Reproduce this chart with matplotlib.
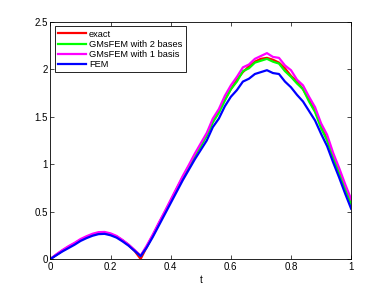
import numpy as np
import matplotlib.pyplot as plt

plt.rcParams['font.family'] = ['Liberation Sans', 'DejaVu Sans']

# time grid and solution values
t = np.linspace(0, 1, 51)

exact = [0.0, 0.045, 0.088, 0.128, 0.163, 0.202, 0.232, 0.257, 0.273, 0.276,
         0.262, 0.236, 0.195, 0.146, 0.085, 0.0,
         0.125, 0.245, 0.37, 0.49, 0.615, 0.74, 0.86, 0.975, 1.09, 1.2,
         1.31, 1.45, 1.56, 1.68, 1.79, 1.89, 1.97, 2.03, 2.08, 2.11,
         2.12, 2.10, 2.07, 2.01, 1.93, 1.87, 1.79, 1.68, 1.56, 1.41,
         1.26, 1.09, 0.92, 0.76, 0.60]

gms_2 = [0.0, 0.045, 0.088, 0.125, 0.16, 0.2, 0.23, 0.255, 0.272, 0.275,
         0.26, 0.235, 0.195, 0.148, 0.09, 0.03,
         0.13, 0.245, 0.365, 0.49, 0.61, 0.735, 0.855, 0.97, 1.09, 1.19,
         1.30, 1.44, 1.54, 1.67, 1.79, 1.87, 1.98, 2.01, 2.07, 2.09,
         2.11, 2.08, 2.06, 1.98, 1.92, 1.85, 1.79, 1.66, 1.55, 1.38,
         1.25, 1.07, 0.90, 0.74, 0.58]

gms_1 = [0.0, 0.05, 0.095, 0.135, 0.17, 0.21, 0.24, 0.266, 0.283, 0.285,
         0.27, 0.243, 0.2, 0.152, 0.095, 0.035,
         0.14, 0.255, 0.38, 0.50, 0.625, 0.75, 0.875, 0.99, 1.11, 1.22,
         1.33, 1.48, 1.58, 1.72, 1.83, 1.92, 2.02, 2.05, 2.11, 2.14,
         2.17, 2.13, 2.12, 2.04, 1.99, 1.89, 1.83, 1.71, 1.60, 1.43,
         1.31, 1.12, 0.96, 0.79, 0.63]

fem = [0.0, 0.04, 0.08, 0.115, 0.15, 0.19, 0.22, 0.245, 0.262, 0.265,
       0.25, 0.225, 0.185, 0.14, 0.085, 0.03,
       0.12, 0.23, 0.35, 0.47, 0.59, 0.71, 0.83, 0.94, 1.05, 1.15,
       1.25, 1.39, 1.48, 1.61, 1.71, 1.78, 1.87, 1.90, 1.95, 1.97,
       1.99, 1.96, 1.95, 1.87, 1.81, 1.73, 1.66, 1.56, 1.46, 1.32,
       1.19, 1.02, 0.86, 0.69, 0.53]

labels = ['exact', 'GMsFEM with 2 bases', 'GMsFEM with 1 basis', 'FEM']
colors = ['#ff0000', '#00ff00', '#ff00ff', '#0000ff']

fig = plt.figure(figsize=(3.88, 2.91), dpi=100)
ax = fig.add_axes([0.13, 0.11, 0.775, 0.815])

for y, lab, c in zip([exact, gms_2, gms_1, fem], labels, colors):
    ax.plot(t, y, color=c, lw=1.6, label=lab)

ax.set_xlim(0, 1)
ax.set_ylim(0, 2.5)
ax.set_xticks([0, 0.2, 0.4, 0.6, 0.8, 1])
ax.set_xticklabels(['0', '0.2', '0.4', '0.6', '0.8', '1'])
ax.set_yticks([0, 0.5, 1, 1.5, 2, 2.5])
ax.set_yticklabels(['0', '0.5', '1', '1.5', '2', '2.5'])
ax.tick_params(direction='in', top=True, right=True, length=3, width=0.5,
               labelsize=7, pad=2)
for s in ax.spines.values():
    s.set_linewidth(0.6)
ax.set_xlabel('t', fontsize=7, labelpad=2)

leg = ax.legend(loc='upper left', fontsize=6.7, fancybox=False, framealpha=1,
                edgecolor='black', handlelength=3.0, handletextpad=0.3,
                borderaxespad=0.5, labelspacing=0.12, borderpad=0.35)
leg.get_frame().set_linewidth(0.6)

fig.savefig('out.png', dpi=100)
